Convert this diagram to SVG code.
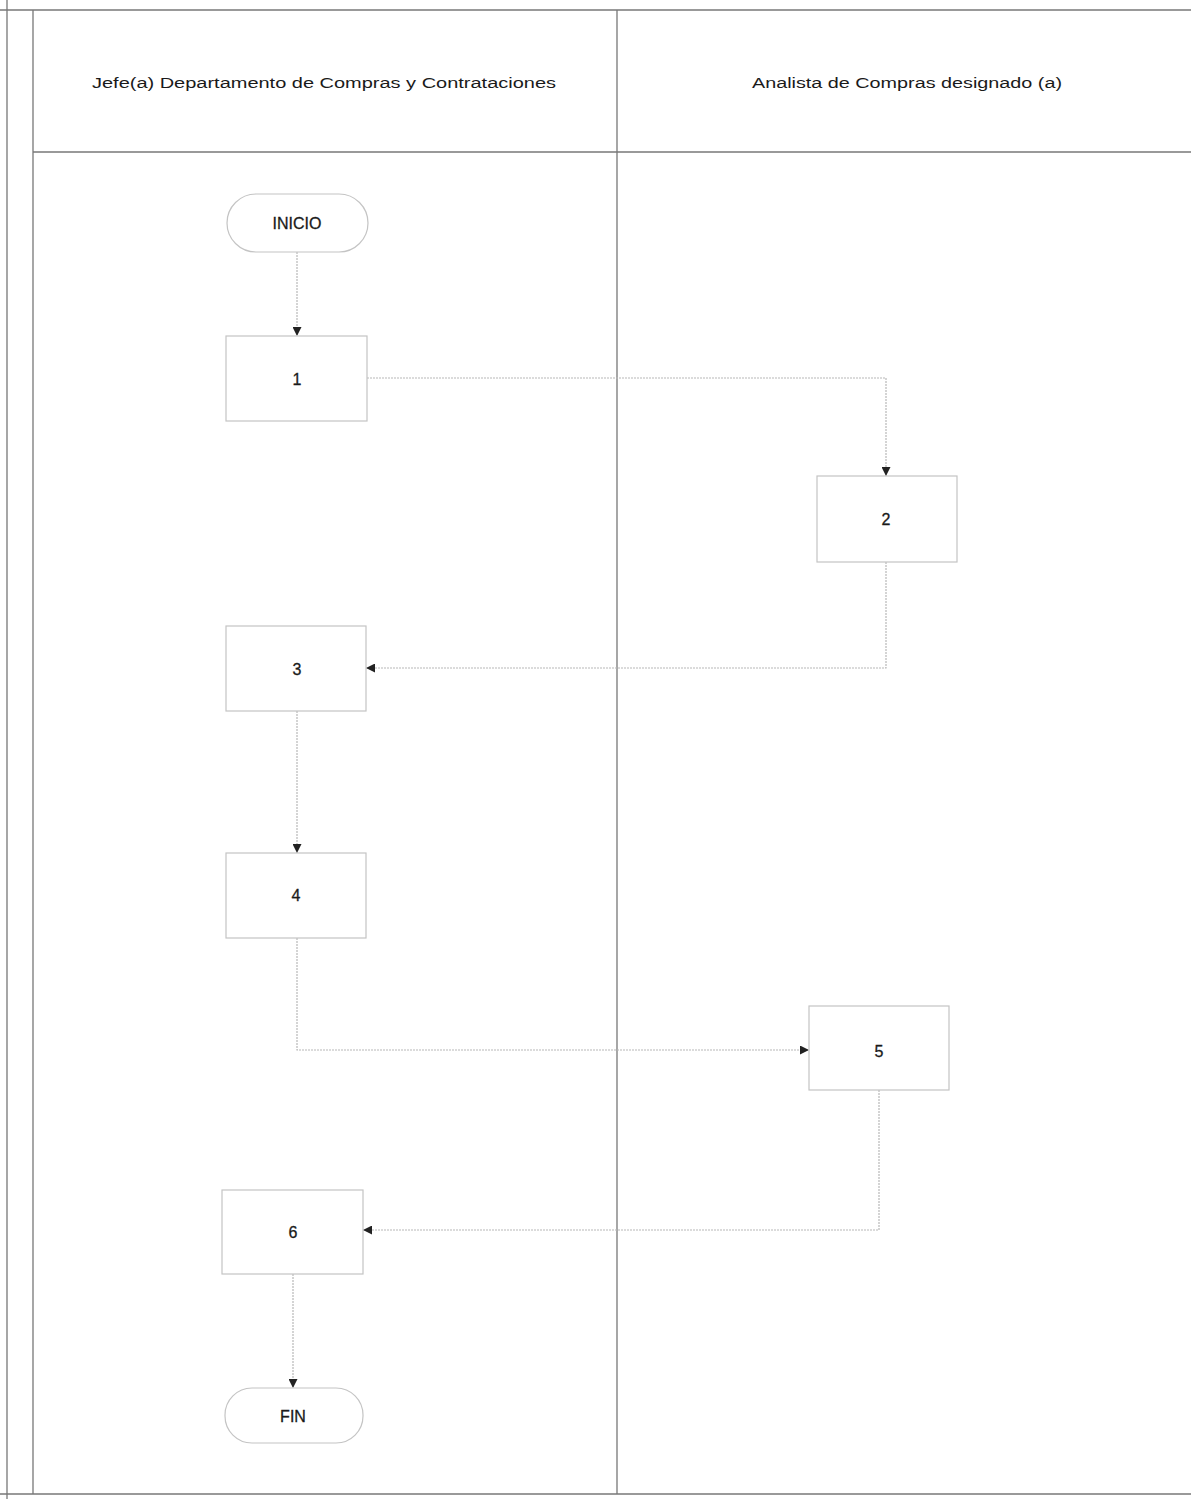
<svg xmlns="http://www.w3.org/2000/svg" width="1191" height="1499" viewBox="0 0 1191 1499">
<style>
.frame{stroke:#777;stroke-width:1.3;fill:none}
.box{fill:#fff;stroke:#c4c4c4;stroke-width:1.2}
.lbl{font-family:"Liberation Sans",Arial,sans-serif;font-size:16px;fill:#1a1a1a;text-anchor:middle;stroke:#1a1a1a;stroke-width:0.3}
.hdr{font-family:"Liberation Sans",Arial,sans-serif;font-size:14px;fill:#1a1a1a}
.conn{stroke:#b8b8b8;stroke-width:1.2;fill:none;stroke-dasharray:2 1}
</style>
<defs>
<marker id="ah" viewBox="0 0 10 10" refX="10" refY="5" markerWidth="9" markerHeight="9" markerUnits="userSpaceOnUse" orient="auto">
<path d="M0,0 L10,5 L0,10 z" fill="#222"/>
</marker>
</defs>
<rect width="1191" height="1499" fill="#fff"/>
<g id="frame">
<line class="frame" x1="7" y1="0" x2="7" y2="1499"/>
<line class="frame" x1="33" y1="10" x2="33" y2="1494"/>
<line class="frame" x1="617" y1="10" x2="617" y2="1494"/>
<line class="frame" x1="0" y1="10" x2="1191" y2="10"/>
<line class="frame" x1="33" y1="152" x2="1191" y2="152"/>
<line class="frame" x1="0" y1="1494" x2="1191" y2="1494"/>
</g>
<g id="lane-headers">
<text class="hdr" x="92" y="88" textLength="464" lengthAdjust="spacingAndGlyphs">Jefe(a) Departamento de Compras y Contrataciones</text>
<text class="hdr" x="752" y="88" textLength="310" lengthAdjust="spacingAndGlyphs">Analista de Compras designado (a)</text>
</g>
<g id="connectors">
<path class="conn" d="M297,252 V336" marker-end="url(#ah)"/>
<path class="conn" d="M367,378 H886 V476" marker-end="url(#ah)"/>
<path class="conn" d="M886,562 V668 H366" marker-end="url(#ah)"/>
<path class="conn" d="M297,711 V853" marker-end="url(#ah)"/>
<path class="conn" d="M297,938 V1050 H809" marker-end="url(#ah)"/>
<path class="conn" d="M879,1090 V1230 H363" marker-end="url(#ah)"/>
<path class="conn" d="M293,1274 V1388" marker-end="url(#ah)"/>
</g>
<g id="inicio">
<rect class="box" x="227" y="194" width="141" height="58" rx="29"/>
<text class="lbl" x="297" y="229">INICIO</text>
</g>
<g id="n1">
<rect class="box" x="226" y="336" width="141" height="85"/>
<text class="lbl" x="297" y="385">1</text>
</g>
<g id="n2">
<rect class="box" x="817" y="476" width="140" height="86"/>
<text class="lbl" x="886" y="525">2</text>
</g>
<g id="n3">
<rect class="box" x="226" y="626" width="140" height="85"/>
<text class="lbl" x="297" y="675">3</text>
</g>
<g id="n4">
<rect class="box" x="226" y="853" width="140" height="85"/>
<text class="lbl" x="296" y="901">4</text>
</g>
<g id="n5">
<rect class="box" x="809" y="1006" width="140" height="84"/>
<text class="lbl" x="879" y="1057">5</text>
</g>
<g id="n6">
<rect class="box" x="222" y="1190" width="141" height="84"/>
<text class="lbl" x="293" y="1238">6</text>
</g>
<g id="fin">
<rect class="box" x="225" y="1388" width="138" height="55" rx="27"/>
<text class="lbl" x="293" y="1422">FIN</text>
</g>
</svg>
